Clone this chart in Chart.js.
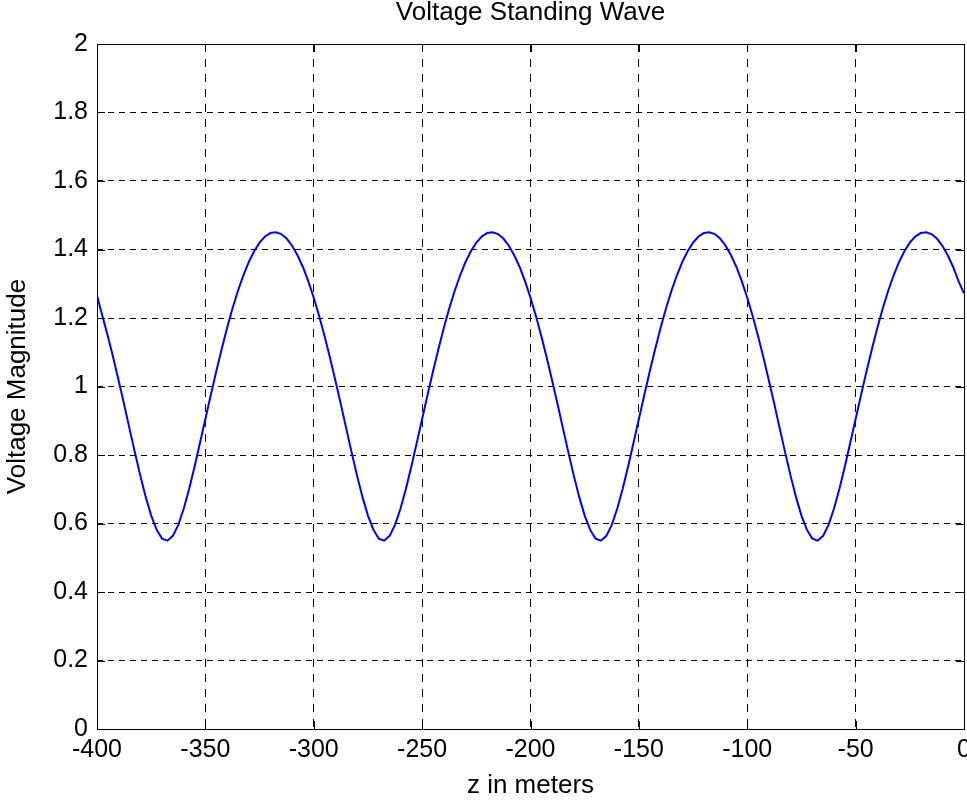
<!DOCTYPE html>
<html>
<head>
<meta charset="utf-8">
<title>Voltage Standing Wave</title>
<script src="https://cdn.jsdelivr.net/npm/chart.js@4/dist/chart.umd.min.js"></script>
<style>
  html, body { margin: 0; padding: 0; background: #ffffff; }
  canvas { display: block; }
</style>
</head>
<body>
<canvas id="vswChart" width="967" height="801"></canvas>
<script>
/* data (z in m, |V|) */
var zMeters = [
  -400, -397.5, -395, -392.5, -390, -387.5, -385, -382.5, -380, -377.5,
  -375, -372.5, -370, -367.5, -365, -362.5, -360, -357.5, -355, -352.5,
  -350, -347.5, -345, -342.5, -340, -337.5, -335, -332.5, -330, -327.5,
  -325, -322.5, -320, -317.5, -315, -312.5, -310, -307.5, -305, -302.5,
  -300, -297.5, -295, -292.5, -290, -287.5, -285, -282.5, -280, -277.5,
  -275, -272.5, -270, -267.5, -265, -262.5, -260, -257.5, -255, -252.5,
  -250, -247.5, -245, -242.5, -240, -237.5, -235, -232.5, -230, -227.5,
  -225, -222.5, -220, -217.5, -215, -212.5, -210, -207.5, -205, -202.5,
  -200, -197.5, -195, -192.5, -190, -187.5, -185, -182.5, -180, -177.5,
  -175, -172.5, -170, -167.5, -165, -162.5, -160, -157.5, -155, -152.5,
  -150, -147.5, -145, -142.5, -140, -137.5, -135, -132.5, -130, -127.5,
  -125, -122.5, -120, -117.5, -115, -112.5, -110, -107.5, -105, -102.5,
  -100, -97.5, -95, -92.5, -90, -87.5, -85, -82.5, -80, -77.5,
  -75, -72.5, -70, -67.5, -65, -62.5, -60, -57.5, -55, -52.5,
  -50, -47.5, -45, -42.5, -40, -37.5, -35, -32.5, -30, -27.5,
  -25, -22.5, -20, -17.5, -15, -12.5, -10, -7.5, -5, -2.5,
  0
];
var voltageMag = [
  1.265, 1.206, 1.147, 1.084, 1.017, 0.948, 0.877, 0.807, 0.739, 0.677,
  0.623, 0.582, 0.556, 0.550, 0.564, 0.596, 0.643, 0.701, 0.766, 0.835,
  0.905, 0.975, 1.044, 1.109, 1.171, 1.228, 1.279, 1.324, 1.363, 1.395,
  1.420, 1.438, 1.448, 1.450, 1.445, 1.432, 1.411, 1.383, 1.349, 1.307,
  1.259, 1.206, 1.147, 1.084, 1.017, 0.948, 0.877, 0.807, 0.739, 0.677,
  0.623, 0.582, 0.556, 0.550, 0.564, 0.596, 0.643, 0.701, 0.766, 0.835,
  0.905, 0.975, 1.044, 1.109, 1.171, 1.228, 1.279, 1.324, 1.363, 1.395,
  1.420, 1.438, 1.448, 1.450, 1.445, 1.432, 1.411, 1.383, 1.349, 1.307,
  1.259, 1.206, 1.147, 1.084, 1.017, 0.948, 0.877, 0.807, 0.739, 0.677,
  0.623, 0.582, 0.556, 0.550, 0.564, 0.596, 0.643, 0.701, 0.766, 0.835,
  0.905, 0.975, 1.044, 1.109, 1.171, 1.228, 1.279, 1.324, 1.363, 1.395,
  1.420, 1.438, 1.448, 1.450, 1.445, 1.432, 1.411, 1.383, 1.349, 1.307,
  1.259, 1.206, 1.147, 1.084, 1.017, 0.948, 0.877, 0.807, 0.739, 0.677,
  0.623, 0.582, 0.556, 0.550, 0.564, 0.596, 0.643, 0.701, 0.766, 0.835,
  0.905, 0.975, 1.044, 1.109, 1.171, 1.228, 1.279, 1.324, 1.363, 1.395,
  1.420, 1.438, 1.448, 1.450, 1.445, 1.432, 1.411, 1.383, 1.349, 1.307,
  1.272
];
var xTicks = [-400, -350, -300, -250, -200, -150, -100, -50, 0];
var yTicks = [0, 0.2, 0.4, 0.6, 0.8, 1, 1.2, 1.4, 1.6, 1.8, 2];
var yTickLabels = ['0', '0.2', '0.4', '0.6', '0.8', '1', '1.2', '1.4', '1.6', '1.8', '2'];

var FONT = '"Liberation Sans", Arial, Helvetica, sans-serif';

var points = zMeters.map(function (z, i) { return { x: z, y: voltageMag[i] }; });

// matlab style box + inner tick marks
var axesBox = {
  id: 'axesBox',
  afterDatasetsDraw: function (chart) {
    var ctx = chart.ctx, a = chart.chartArea;
    var xs = chart.scales.x, ys = chart.scales.y;
    var tl = 8;
    ctx.save();
    ctx.strokeStyle = '#000000';
    ctx.lineWidth = 1;
    ctx.setLineDash([]);
    ctx.beginPath();
    xTicks.forEach(function (v) {
      var px = Math.round(xs.getPixelForValue(v)) + 0.5;
      ctx.moveTo(px, a.bottom); ctx.lineTo(px, a.bottom - tl);
      ctx.moveTo(px, a.top); ctx.lineTo(px, a.top + tl);
    });
    yTicks.forEach(function (v) {
      var py = Math.round(ys.getPixelForValue(v)) + 0.5;
      ctx.moveTo(a.left, py); ctx.lineTo(a.left + tl, py);
      ctx.moveTo(a.right, py); ctx.lineTo(a.right - tl, py);
    });
    ctx.stroke();
    ctx.strokeRect(Math.round(a.left) + 0.5, Math.round(a.top) + 0.5,
      Math.round(a.right - a.left), Math.round(a.bottom - a.top));
    ctx.restore();
  }
};

var vswChart = new Chart(document.getElementById('vswChart'), {
  type: 'line',
  data: {
    datasets: [{
      data: points,
      borderColor: '#0000ff',
      borderWidth: 2,
      pointRadius: 0,
      tension: 0,
      fill: false
    }]
  },
  options: {
    responsive: false,
    animation: false,
    devicePixelRatio: 1,
    layout: { padding: { left: 0, right: 3, top: 0, bottom: 0 } },
    plugins: {
      legend: { display: false },
      tooltip: { enabled: false },
      title: {
        display: true,
        fullSize: false,
        text: 'Voltage Standing Wave',
        color: '#000000',
        font: { family: FONT, size: 26, weight: 'normal', lineHeight: 1 },
        padding: { top: 0, bottom: 18 }
      }
    },
    scales: {
      x: {
        type: 'linear',
        min: -400,
        max: 0,
        afterBuildTicks: function (scale) {
          scale.ticks = xTicks.map(function (v) { return { value: v }; });
        },
        afterFit: function (scale) {
          scale.height = 72;
          scale.paddingLeft = 0;
          scale.paddingRight = 0;
        },
        border: { display: false, dash: [8, 7] },
        grid: { color: '#000000', lineWidth: 1, drawTicks: false },
        ticks: {
          color: '#000000',
          padding: 6,
          maxRotation: 0,
          autoSkip: false,
          font: { family: FONT, size: 25 },
          callback: function (v) { return String(v); }
        },
        title: {
          display: true,
          text: 'z in meters',
          color: '#000000',
          font: { family: FONT, size: 26 },
          padding: { top: 0, bottom: 0 }
        }
      },
      y: {
        min: 0,
        max: 2,
        afterBuildTicks: function (scale) {
          scale.ticks = yTicks.map(function (v) { return { value: v }; });
        },
        afterFit: function (scale) {
          scale.width = 97;
          scale.paddingTop = 0;
          scale.paddingBottom = 0;
        },
        border: { display: false, dash: [6, 5] },
        grid: { color: '#000000', lineWidth: 1, drawTicks: false },
        ticks: {
          color: '#000000',
          padding: 9,
          autoSkip: false,
          font: { family: FONT, size: 25 },
          callback: function (v, i) { return yTickLabels[i]; }
        },
        title: {
          display: true,
          text: 'Voltage Magnitude',
          color: '#000000',
          font: { family: FONT, size: 26 },
          padding: { top: 2, bottom: 0 }
        }
      }
    }
  },
  plugins: [axesBox]
});
</script>
</body>
</html>
